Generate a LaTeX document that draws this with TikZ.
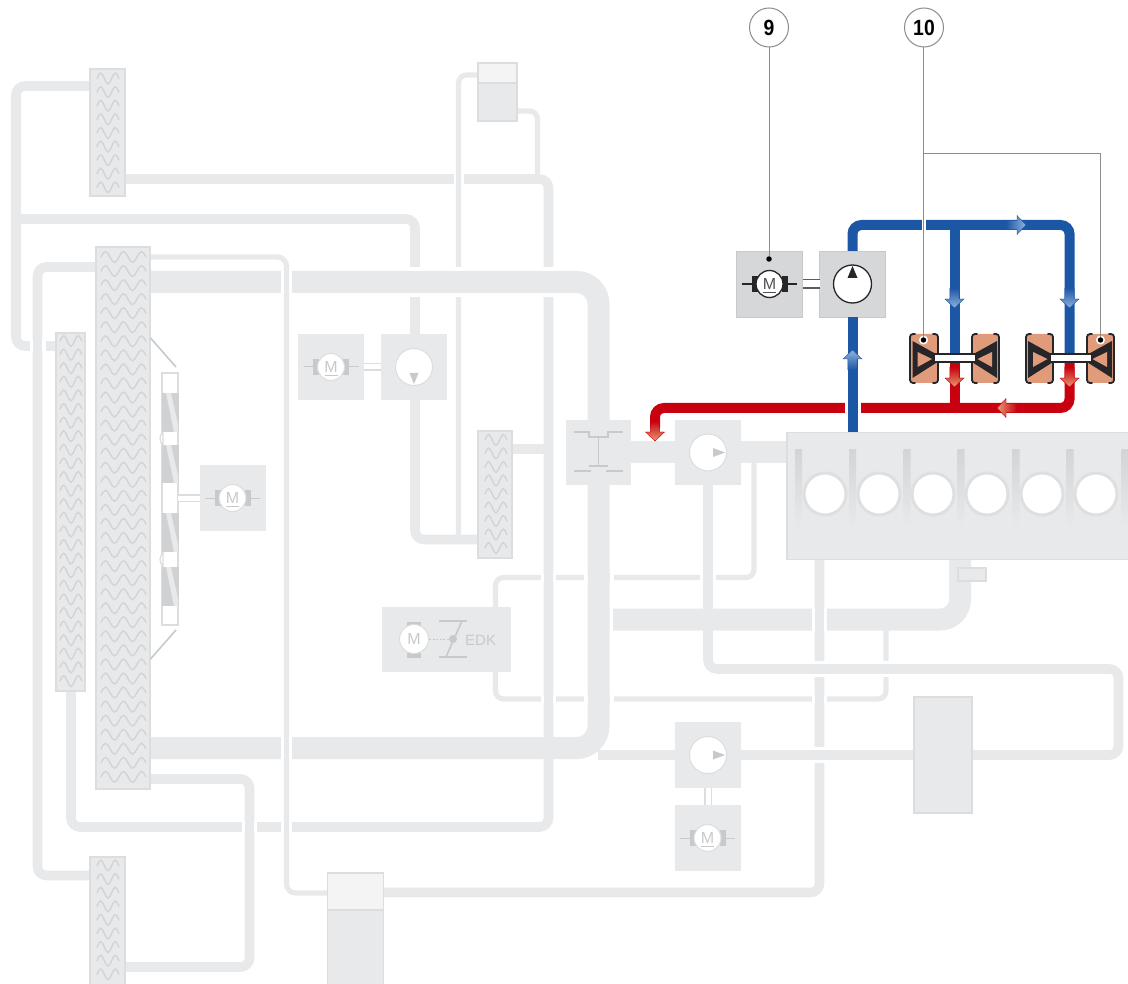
\documentclass[tikz,border=0pt]{standalone}
\usepackage{fontspec}
\usepackage{graphicx}
\setmainfont{Liberation Sans}
\definecolor{pipecol}{HTML}{E8E9EB}
\definecolor{edgecol}{HTML}{DCDDDF}
\definecolor{symcol}{HTML}{C8C9CB}
\definecolor{wavecol}{HTML}{D3D4D6}
\definecolor{ringcol}{HTML}{DEDFE1}
\definecolor{bluecol}{HTML}{1C57A5}
\definecolor{bluelt}{HTML}{8FB2DC}
\definecolor{redcol}{HTML}{C8000F}
\definecolor{redlt}{HTML}{E89A70}
\definecolor{copper}{HTML}{E09C7A}
\definecolor{darkcol}{HTML}{26262A}
\definecolor{actbox}{HTML}{D6D7D9}
\definecolor{leader}{HTML}{8C8C8C}
\tikzset{
  pipeS/.style={draw=pipecol,line width=5.2},
  pipeM/.style={draw=pipecol,line width=9.6},
  pipeL/.style={draw=pipecol,line width=22},
  gbox/.style={draw=none,fill=pipecol,inner sep=0,outer sep=0,rectangle},
  abox/.style={draw=symcol,line width=.8,fill=actbox,inner sep=0,outer sep=0,rectangle},
  hxbox/.style={draw=edgecol,line width=1.6,fill=pipecol,inner sep=0,outer sep=0,rectangle},
  slot/.style={inner sep=0,outer sep=0,rectangle},
  wave/.style={draw=wavecol,line width=1.4,line cap=round},
  shaftg/.style={draw=edgecol,line width=1.3,double=white,double distance=5},
  shaftd/.style={draw=darkcol!75,line width=1.7,double=white,double distance=7},
  lead/.style={draw=leader,line width=1},
  flowblue/.style={draw=bluecol,line width=10,rounded corners=9},
  flowred/.style={draw=redcol,line width=10,rounded corners=9},
  labelc/.style={circle,draw=leader,line width=1,fill=white,minimum size=39,inner sep=0,outer sep=0},
  dotn/.style={circle,fill=black,minimum size=5.5,inner sep=0,outer sep=0},
}
\newcommand\hopV[5]{%
  \fill[white] ({#1-#3/2-#5},{#2-#4}) rectangle ({#1+#3/2+#5},{#2+#4});
  \fill[pipecol] ({#1-#3/2},{#2-#4-.5}) rectangle ({#1+#3/2},{#2+#4+.5});}
\newcommand\hopH[5]{%
  \fill[white] ({#2-#4},{#1-#3/2-#5}) rectangle ({#2+#4},{#1+#3/2+#5});
  \fill[pipecol] ({#2-#4-.5},{#1-#3/2}) rectangle ({#2+#4+.5},{#1+#3/2});}
% x0, y0, half period, halves, rows, row pitch
\newcommand\waves[6]{%
  \foreach \rr in {1,...,#5}{%
    \pgfmathsetmacro\yy{#2+(\rr-1)*#6}%
    \foreach \ii in {1,...,#4}{%
      \pgfmathsetmacro\xa{#1+(\ii-1)*#3}%
      \pgfmathsetmacro\xb{\xa+#3/2}%
      \pgfmathsetmacro\xc{\xa+#3}%
      \pgfmathsetmacro\ya{\yy+5.4*(2*mod(\ii,2)*(-1)+1)}%
      \draw[wave] (\xa,\yy) sin (\xb,\ya) cos (\xc,\yy);
    }}}
% name, x, y, edge colour, brush colour, text colour, line width
\newcommand\motorsym[7]{%
  \draw[draw=#5,line width=#7] ({#2-27.5},#3) -- ({#2+27.5},#3);
  \fill[#5] ({#2-18},{#3-8}) rectangle ({#2-12},{#3+8});
  \fill[#5] ({#2+12},{#3-8}) rectangle ({#2+18},{#3+8});
  \node (#1) [circle,draw=#4,line width=#7,fill=white,minimum size=27,inner sep=0,text=#6,font=\fontsize{16}{16}\selectfont] at (#2,#3) {M};
  \draw[draw=#6,line width=1] ({#2-6.5},{#3+8.5}) -- ({#2+6.5},{#3+8.5});
}
% tip x, y, dir, shading keys
\newcommand\flowH[4]{%
  \shade[#4] (#1,#2) -- ({#1-#3*9},{#2-9.5}) -- ({#1-#3*9},{#2-4.6}) -- ({#1-#3*20},{#2-4.6}) -- ({#1-#3*20},{#2+4.6}) -- ({#1-#3*9},{#2+4.6}) -- ({#1-#3*9},{#2+9.5}) -- cycle;}
\newcommand\flowV[4]{%
  \shade[#4] (#1,#2) -- ({#1-9.5},{#2-#3*9}) -- ({#1-4.6},{#2-#3*9}) -- ({#1-4.6},{#2-#3*20}) -- ({#1+4.6},{#2-#3*20}) -- ({#1+4.6},{#2-#3*9}) -- ({#1+9.5},{#2-#3*9}) -- cycle;}
% name, x1, x2, side (+1 base left, -1 base right)
\newcommand\turb[4]{%
  \pgfmathsetmacro\cx{(#2+#3)/2}%
  \node (#1) [rectangle,fill=copper,rounded corners=3,minimum width={#3-#2},minimum height=49,inner sep=0,outer sep=0] at (\cx,358.5) {};
  \draw[draw=darkcol,line width=1.8,rounded corners=3,line cap=round] ({#2+5},334) -- (#2,334) -- (#2,383) -- ({#2+5},383);
  \draw[draw=darkcol,line width=1.8,rounded corners=3,line cap=round] ({#3-5},334) -- (#3,334) -- (#3,383) -- ({#3-5},383);
  \pgfmathsetmacro\bx{\cx-#4*11.5}%
  \pgfmathsetmacro\ax{\cx+#4*12}%
  \pgfmathsetmacro\bxi{\cx-#4*6.5}%
  \pgfmathsetmacro\axi{\cx+#4*8}%
  \fill[darkcol] (\bx,341) -- (\ax,354) -- (\ax,363) -- (\bx,378) -- cycle;
  \fill[copper] (\bxi,352) -- (\axi,359) -- (\bxi,367) -- cycle;
}
\begin{document}
\begin{tikzpicture}[x=1pt,y=-1pt]
\useasboundingbox (0,0) rectangle (1128,984);
\clip (0,0) rectangle (1128,984);
% ---------- outlines named first, painted after the pipes
\path
 node (hxA) [slot,minimum width=35,minimum height=127] at (107.5,132.5) {}
 node (hxB) [slot,minimum width=54,minimum height=542] at (123,518) {}
 node (hxC) [slot,minimum width=29,minimum height=358] at (70.5,512) {}
 node (hxD) [slot,minimum width=35,minimum height=140] at (107.5,927) {}
 node (hxE) [slot,minimum width=34,minimum height=127] at (495,494.5) {}
 node (engine) [slot,minimum width=350,minimum height=127] at (962,496) {}
 node (tankS) [slot,minimum width=39,minimum height=58] at (497.5,92) {}
 node (tankB) [slot,minimum width=56,minimum height=113] at (355.5,929.5) {}
 node (pumpA) [slot,minimum width=66,minimum height=66] at (414,367) {}
 node (pumpB) [slot,minimum width=66,minimum height=65] at (708,452.5) {}
 node (pumpD) [slot,minimum width=66,minimum height=66] at (708,755) {}
 node (tbox) [slot,minimum width=65,minimum height=65] at (598.5,452.5) {}
 node (edk) [slot,minimum width=129,minimum height=65] at (446.5,639.5) {}
 node (block) [slot,minimum width=58,minimum height=116] at (943,755) {};
% ---------- grey pipes
\draw[pipeM,rounded corners=9] (hxA.west |- 0,86) -- (16,86) -- (16,346) -- (hxC.west |- 0,346);
\draw[pipeM,rounded corners=9] (16,219) -- (415,219) -- (415,340);
\draw[pipeM,rounded corners=9] (hxA.east |- 0,179) -- (548.5,179) -- (548.5,748);
\draw[pipeS,rounded corners=8] (tankS.west |- 0,75) -- (458.5,75) -- (458.5,539);
\draw[pipeS,rounded corners=8] (tankS.east |- 0,111) -- (537.5,111) -- (537.5,179);
\draw[pipeM,rounded corners=9] (415,395) -- (415,539.5) -- (hxE.west |- 0,539.5);
\draw[pipeM] (hxE.east |- 0,449) -- (548.5,449);
\draw[pipeL,rounded corners=22] (hxB.east |- 0,282) -- (598.5,282) -- (598.5,748) -- (hxB.east |- 0,748);
\draw[pipeL] (tbox.east |- 0,452) -- (pumpB.west |- 0,452);
\draw[pipeL] (pumpB.east |- 0,452) -- (engine.west |- 0,452);
\draw[pipeS,rounded corners=9] (hxB.east |- 0,257) -- (286.5,257) -- (286.5,893) -- (tankB.west |- 0,893);
\draw[pipeM,rounded corners=9] (hxB.west |- 0,267) -- (37.5,267) -- (37.5,875.5) -- (hxD.west |- 0,875.5);
\draw[pipeM,rounded corners=9] (hxB.east |- 0,779) -- (249.5,779) -- (249.5,967) -- (hxD.east |- 0,967);
\draw[pipeM,rounded corners=9] (hxC.south -| 71,0) -- (71,827) -- (548.5,827) -- (548.5,748);
\draw[pipeS,rounded corners=8] (edk.north -| 495.5,0) -- (495.5,577.5) -- (754,577.5) -- (754,460);
\draw[pipeS,rounded corners=8] (edk.south -| 495.5,0) -- (495.5,699) -- (886,699) -- (886,625);
\draw[pipeL,rounded corners=20] (960,555) -- (960,619.5) -- (613,619.5);
\draw[pipeM,rounded corners=9] (819.5,555) -- (819.5,892.5) -- (tankB.east |- 0,892.5);
\draw[pipeM,rounded corners=9] (pumpB.south -| 708,0) -- (708,669) -- (1118.5,669) -- (1118.5,755) -- (block.east |- 0,755);
\draw[pipeM] (598,755) -- (block.west |- 0,755);
% ---------- crossings
\hopV{37.5}{346}{9.6}{6.5}{3.2}
\hopV{458.5}{179}{5.2}{6}{2.4}
\hopH{282}{415}{22}{7}{4}
\hopH{282}{458.5}{22}{5}{4}
\hopH{282}{548.5}{22}{7}{4}
\hopV{286.5}{282}{5.2}{12}{2.6}
\hopV{286.5}{748}{5.2}{12}{2.6}
\hopV{286.5}{827}{5.2}{6.5}{2.6}
\hopV{249.5}{827}{9.6}{6}{3}
\hopV{548.5}{577.5}{9.6}{4}{3}
\hopV{548.5}{699}{9.6}{4}{3}
\hopV{598.5}{577.5}{22}{4}{4}
\hopV{598.5}{699}{22}{4}{4}
\hopV{708}{577.5}{9.6}{4}{3}
\hopV{819.5}{619.5}{9.6}{12}{3}
\hopV{819.5}{699}{9.6}{4}{3}
\hopH{669}{819.5}{9.6}{6}{3}
\hopH{755}{819.5}{9.6}{6}{3}
\hopH{669}{886}{9.6}{4}{3}
% ---------- heat exchangers
\node[hxbox,minimum width=35,minimum height=127] at (hxA) {};
\node[hxbox,minimum width=54,minimum height=542] at (hxB) {};
\node[hxbox,minimum width=29,minimum height=358] at (hxC) {};
\node[hxbox,minimum width=35,minimum height=140] at (hxD) {};
\node[hxbox,minimum width=34,minimum height=127] at (hxE) {};
\waves{97}{78.5}{7.3}{3}{9}{13.6}
\waves{101}{257}{9}{5}{38}{14.05}
\waves{60}{341}{7.3}{3}{26}{13.6}
\waves{97}{865.5}{7.3}{3}{9}{13.6}
\waves{485}{440}{7.3}{3}{9}{13.5}
% ---------- fan
\draw[draw=symcol,line width=1.6] (150.5,338) -- (176,367);
\draw[draw=symcol,line width=1.6] (150.5,659) -- (176,630);
\node (fan) [rectangle,draw=edgecol,line width=1.8,fill=white,minimum width=16,minimum height=252,inner sep=0,outer sep=0] at (170,499) {};
\foreach \ya/\yb in {393/432,445/483,513/552,567/606}{
  \fill[symcol!85!white] (161.5,\ya) rectangle (178.5,\yb);
  \fill[pipecol] (166,\ya) -- (171,\ya) -- (178,{\yb-8}) -- (178,\yb) -- (174,\yb) -- cycle;
}
\foreach \yc in {438.5,559.5}{
  \fill[white,draw=edgecol,line width=1.2] (163,{\yc-6.5}) .. controls (159,{\yc-3}) and (159,{\yc+3}) .. (163,{\yc+6.5}) -- cycle;
}
% ---------- grey boxes
\node (motF) [gbox,minimum width=66,minimum height=66] at (233,498) {};
\node (motA) [gbox,minimum width=66,minimum height=66] at (331,367) {};
\node[gbox,minimum width=66,minimum height=66] at (pumpA) {};
\node[gbox,minimum width=65,minimum height=65] at (tbox) {};
\node[gbox,minimum width=66,minimum height=65] at (pumpB) {};
\node[gbox,minimum width=66,minimum height=66] at (pumpD) {};
\node (motD) [gbox,minimum width=66,minimum height=66] at (707.5,838) {};
\node[gbox,minimum width=129,minimum height=65] at (edk) {};
\draw[shaftg] (fan.east |- motF.west) -- (motF.west);
\draw[shaftg] (motA.east) -- (pumpA.west);
\draw[shaftg] (pumpD.south) -- (motD.north -| pumpD.south);
\motorsym{mF}{232.5}{498}{edgecol}{symcol}{symcol}{1}
\motorsym{mA}{331}{367}{edgecol}{symcol}{symcol}{1}
\motorsym{mD}{707.5}{838}{edgecol}{symcol}{symcol}{1}
\node (cA) [circle,draw=edgecol,line width=1,fill=white,minimum size=37,inner sep=0] at (414,367) {};
\fill[symcol] (414,384) -- (409.5,373) -- (418.5,373) -- cycle;
\node (cB) [circle,draw=edgecol,line width=1,fill=white,minimum size=37,inner sep=0] at (708,452.5) {};
\fill[symcol] (725,452.5) -- (713,448) -- (713,457) -- cycle;
\node (cD) [circle,draw=edgecol,line width=1,fill=white,minimum size=37,inner sep=0] at (708,755) {};
\fill[symcol] (725,755) -- (713,750.5) -- (713,759.5) -- cycle;
% T symbol
\draw[draw=symcol,line width=1.6] (574,432) -- (589,432) -- (589,437) -- (608,437) -- (608,432) -- (623,432);
\draw[draw=symcol,line width=1.6] (598.5,437) -- (598.5,466);
\draw[draw=symcol,line width=1.6] (589,466) -- (608,466);
\draw[draw=symcol,line width=1.6] (574,471) -- (591,471);
\draw[draw=symcol,line width=1.6] (606,471) -- (623,471);
% EDK
\fill[symcol] (407,621.5) rectangle (421,626);
\fill[symcol] (407,653) rectangle (421,657.5);
\node (mE) [circle,draw=edgecol,line width=1,fill=white,minimum size=29,inner sep=0,text=symcol,font=\fontsize{16}{16}\selectfont] at (414,639) {M};
\node (vE) [circle,fill=symcol,minimum size=8,inner sep=0,outer sep=0] at (453,639) {};
\draw[draw=symcol,line width=1,dash pattern=on 2pt off 1.6pt] (mE.east) -- (vE.west);
\draw[draw=symcol,line width=1.6] (439,621) -- (467,621);
\draw[draw=symcol,line width=1.6] (439,657) -- (467,657);
\draw[draw=symcol,line width=1.6] (462,621) -- (446,657);
\node (edktxt) [inner sep=0,text=symcol,font=\fontsize{15}{15}\selectfont,anchor=west] at (465,640) {EDK};
% ---------- engine
\node[hxbox,minimum width=350,minimum height=127] at (engine) {};
\foreach \xb in {798.5,852.5,907,961,1016,1070,1125}{
  \shade[top color=symcol!65!pipecol,bottom color=pipecol] ({\xb-3.5},449) -- ({\xb+3.5},449) -- ({\xb+3.5},515) -- ({\xb+1.5},527) -- ({\xb-1.5},527) -- ({\xb-3.5},515) -- cycle;
}
\foreach \xc in {825,879,933,987,1042,1096}{
  \fill[white,draw=ringcol,line width=3] (\xc,494) circle (21);
}
\node (sumpTag) [hxbox,minimum width=28,minimum height=13] at (972,574.5) {};
% ---------- block and tanks
\node[hxbox,minimum width=58,minimum height=116] at (block) {};
\node[hxbox,minimum width=39,minimum height=58] at (tankS) {};
\fill[pipecol!50!white] (478.8,63.8) rectangle (516.2,83);
\draw[draw=edgecol,line width=1.2] (tankS.west |- 0,83) -- (tankS.east |- 0,83);
\node[hxbox,minimum width=56,minimum height=113] at (tankB) {};
\fill[pipecol!50!white] (328.3,873.8) rectangle (382.7,910);
\draw[draw=edgecol,line width=1.2] (tankB.west |- 0,910) -- (tankB.east |- 0,910);
% ---------- active: red line
\draw[flowred] (1069.5,362) -- (1069.5,408) -- (655,408) -- (655,428);
\draw[flowred] (954.5,362) -- (954.5,408);
\fill[white] (845,401) rectangle (861,415);
% ---------- active: blue line
\node (mot9) [abox,minimum width=66,minimum height=66] at (769.5,284) {};
\node (pump9) [abox,minimum width=66,minimum height=66] at (852.5,284) {};
\draw[flowblue] (pump9.north) -- (852.5,225) -- (1069.5,225) -- (1069.5,354);
\draw[flowblue] (954.5,225) -- (954.5,354);
\draw[draw=bluecol,line width=10] (pump9.south) -- (pump9.south |- engine.north);
\fill[white] (921.5,218) rectangle (926,232);
\draw[shaftd] (mot9.east) -- (pump9.west);
\motorsym{m9}{769.5}{284}{darkcol}{darkcol}{darkcol!80}{1.3}
\node (c9) [circle,draw=darkcol,line width=1.3,fill=white,minimum size=38,inner sep=0] at (852.5,284) {};
\fill[darkcol] (852.5,266) -- (857.5,278) -- (847.5,278) -- cycle;
% ---------- flow arrows
\flowH{1026}{225}{1}{left color=bluecol,right color=bluelt,draw=bluecol}
\flowV{852.5}{350}{-1}{top color=bluelt,bottom color=bluecol,draw=bluecol}
\flowV{954.5}{308}{1}{top color=bluecol,bottom color=bluelt,draw=bluecol}
\flowV{1069.5}{308}{1}{top color=bluecol,bottom color=bluelt,draw=bluecol}
\flowV{954.5}{387}{1}{top color=redcol,bottom color=redlt,draw=redcol}
\flowV{1069.5}{387}{1}{top color=redcol,bottom color=redlt,draw=redcol}
\flowV{655}{441}{1}{top color=redcol,bottom color=redlt,draw=redcol}
\flowH{997}{408}{-1}{left color=redlt,right color=redcol,draw=redcol}
% ---------- turbos
\turb{tA}{910}{938}{1}
\turb{tB}{972}{999}{-1}
\turb{tC}{1026}{1053}{1}
\turb{tD}{1087}{1114}{-1}
\node (sh1) [rectangle,draw=darkcol,line width=1.6,fill=white,minimum width=42,minimum height=7.5,inner sep=0] at (955,358) {};
\node (sh2) [rectangle,draw=darkcol,line width=1.6,fill=white,minimum width=42,minimum height=7.5,inner sep=0] at (1071,358) {};
% ---------- leaders and labels
\node (c9lab) [labelc] at (769,27.5) {\fontsize{22}{22}\selectfont\bfseries\scalebox{.88}[1]{9}};
\node (c10lab) [labelc] at (924,27.5) {\fontsize{22}{22}\selectfont\bfseries\scalebox{.88}[1]{10}};
\node (dot9) [dotn] at (769,259) {};
\node (ha) [circle,fill=white,minimum size=9,inner sep=0] at (923.5,340) {};
\node (hb) [circle,fill=white,minimum size=9,inner sep=0] at (1100.5,340) {};
\node (dotA) [dotn] at (923.5,340) {};
\node (dotB) [dotn] at (1100.5,340) {};
\coordinate (br10) at (923.5,154);
\draw[lead] (c9lab.south) -- (dot9);
\draw[lead] (c10lab.south -| br10) -- (dotA);
\draw[lead] (br10) -| (dotB);
\end{tikzpicture}
\end{document}
